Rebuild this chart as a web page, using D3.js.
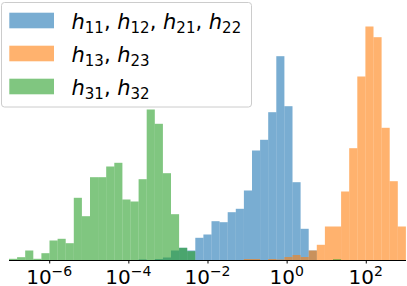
<!DOCTYPE html>
<html>
<head>
<meta charset="utf-8">
<script src="https://cdn.jsdelivr.net/npm/d3@7"></script>
<style>
  body { margin: 0; background: #fff; }
  text { font-family: 'DejaVu Sans', sans-serif; fill: #000; }
</style>
</head>
<body>
<script>
// shared log-spaced bins (exponents of the outer edges), 49 bins
const logMin = -7.016, logMax = 3.014, nBins = 49;

// bar heights per bin, left to right
const blueCounts = [0, 0, 0, 0, 0, 0, 0, 0, 0, 0, 0, 0, 0, 0, 0, 0,
  0.6, 0, 1, 2.5, 9.5, 12.2, 9.5, 22.2, 25.5, 38.8, 37.8, 47.8, 51.2, 69.5,
  109.5, 120.2, 147.8, 203.8, 153.8, 77.8, 31.2, 9.5,
  0, 0, 0, 0, 0, 0, 0, 0, 0, 0, 0];
const orangeCounts = [0, 0, 0, 0, 0, 0, 0, 0, 0, 0, 0, 0, 0, 0, 0, 0, 0, 0, 0, 0,
  0, 0, 0, 0, 0, 0, 0, 0, 0,
  1, 1, 0, 1, 0.5, 3, 5, 3, 9.5, 15.2, 33.5, 33.5, 68.5, 111.8, 183.5, 233.5,
  222.8, 132.2, 78.8, 33.5];
const greenCounts = [1.2, 2.8, 9.5, 1.2, 6.8, 19.5, 21.2, 16.8, 62.2, 43.8, 82.8,
  82.8, 93.5, 97.2, 60.5, 58.5, 80.8, 150.5, 136.2, 86.8, 45.8, 12.2, 8.8,
  0, 0, 0, 0, 0, 0, 0, 0, 0, 0, 0, 0, 0, 0, 0, 0, 0,
  0.8, 0, 0, 0, 0, 0, 0, 0, 0];

const seriesNames = [['11', '12', '21', '22'], ['13', '23'], ['31', '32']];
const seriesColors = ['#1f77b4', '#ff7f0e', '#2ca02c'];
const tickExps = [-6, -4, -2, 0, 2];

const width = 407, height = 286;
const svg = d3.select('body').append('svg')
  .attr('width', width)
  .attr('height', height);

const x = d3.scaleLog()
  .domain([Math.pow(10, logMin), Math.pow(10, logMax)])
  .range([9, 405.9]);

const y = d3.scaleLinear()
  .domain([0, 245])
  .range([260, 15]);

const edges = d3.range(nBins + 1).map(i => Math.pow(10, logMin + i * (logMax - logMin) / nBins));

const allSeries = [blueCounts, orangeCounts, greenCounts];
allSeries.forEach((counts, s) => {
  svg.append('g')
    .selectAll('rect')
    .data(counts.map((c, i) => ({ c: c, x0: edges[i], x1: edges[i + 1] })).filter(d => d.c > 0))
    .enter()
    .append('rect')
    .attr('x', d => x(d.x0))
    .attr('width', d => x(d.x1) - x(d.x0))
    .attr('y', d => y(d.c))
    .attr('height', d => y(0) - y(d.c))
    .attr('fill', seriesColors[s])
    .attr('fill-opacity', 0.6);
});

// x axis
const xAxis = d3.axisBottom(x)
  .tickValues(tickExps.map(e => Math.pow(10, e)))
  .tickSize(3.5)
  .tickFormat('');

const ax = svg.append('g')
  .attr('transform', 'translate(0,260)')
  .call(xAxis);
ax.select('.domain').attr('d', 'M9,0.5H406').attr('stroke', '#000').attr('stroke-width', 1);
ax.selectAll('.tick line').attr('stroke', '#000').attr('stroke-width', 1);

tickExps.forEach(e => {
  const t = svg.append('text')
    .attr('x', x(Math.pow(10, e)))
    .attr('y', 283.5)
    .attr('text-anchor', 'middle')
    .style('font-size', '20px');
  t.append('tspan').text('10');
  t.append('tspan')
    .attr('dy', -8)
    .style('font-size', '14px')
    .text(e < 0 ? '\u2212' + Math.abs(e) : String(e));
});

// legend
const legend = svg.append('g');
legend.append('rect')
  .attr('x', 1.5).attr('y', 2.5)
  .attr('width', 250).attr('height', 104.5)
  .attr('rx', 3)
  .attr('fill', '#fff').attr('fill-opacity', 0.8)
  .attr('stroke', '#cccccc').attr('stroke-width', 1);

seriesNames.forEach((subs, i) => {
  const cy = 20.5 + i * 33;
  legend.append('rect')
    .attr('x', 9.3).attr('y', cy - 7.8)
    .attr('width', 44.7).attr('height', 15.6)
    .attr('fill', seriesColors[i]).attr('fill-opacity', 0.6);
  const t = legend.append('text')
    .attr('x', 71.5)
    .attr('y', cy + 8.5)
    .style('font-size', '21px');
  subs.forEach((s, j) => {
    if (j > 0) t.append('tspan').attr('dy', -4).text(', ');
    t.append('tspan').style('font-style', 'italic').text('h');
    t.append('tspan').attr('dy', 4).style('font-size', '15px').text(s);
  });
});
</script>
</body>
</html>
